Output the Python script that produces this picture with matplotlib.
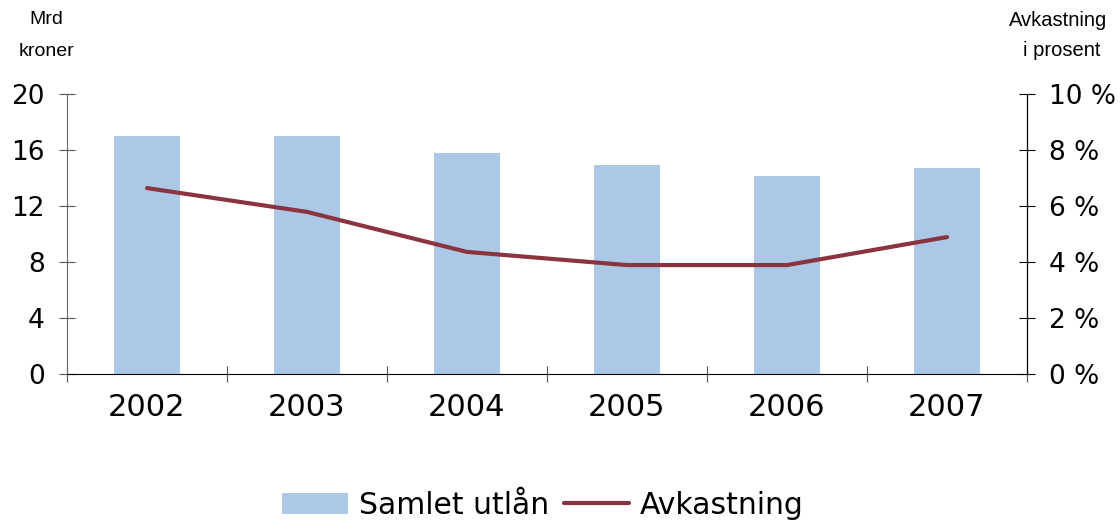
import matplotlib.pyplot as plt
import numpy as np

# data
years = ["2002", "2003", "2004", "2005", "2006", "2007"]
utlan = [17.0, 17.0, 15.8, 14.9, 14.15, 14.7]        # Mrd kroner
avkastning = [6.64, 5.79, 4.36, 3.89, 3.89, 4.89]    # prosent
left_ticks = [0, 4, 8, 12, 16, 20]
right_ticks = [0, 2, 4, 6, 8, 10]

BAR_COL = "#abc9e6"
LINE_COL = "#8b3440"

fig = plt.figure(figsize=(11.2, 5.21), dpi=100)
ax = fig.add_axes([67 / 1120, 1 - 374 / 521, 960 / 1120, 280 / 521])
ax2 = ax.twinx()

x = np.arange(len(years))
bars = ax.bar(x, utlan, width=0.41, color=BAR_COL, label="Samlet utlån", zorder=2)
line, = ax2.plot(x, avkastning, color=LINE_COL, lw=3, label="Avkastning",
                 solid_capstyle="round")

ax.set_xlim(-0.5, len(years) - 0.5)
ax.set_ylim(0, 20)
ax2.set_ylim(0, 10)
ax.set_yticks(left_ticks)
ax.set_yticklabels([str(v) for v in left_ticks], fontsize=19)
ax2.set_yticks(right_ticks)
ax2.set_yticklabels([f"{v} %" for v in right_ticks], fontsize=19)

# category ticks between bars, labels centered under bars
ax.set_xticks(np.arange(-0.5, len(years), 1.0))
ax.set_xticklabels([])
ax.set_xticks(x, minor=True)
ax.set_xticklabels(years, minor=True, fontsize=22)
ax.tick_params(axis="x", which="minor", length=0, pad=14)
ax.tick_params(axis="x", which="major", direction="inout", length=12, color="#555555")
ax.tick_params(axis="y", direction="inout", length=12, color="#555555", pad=10)
ax2.tick_params(axis="y", direction="inout", length=12, color="black", pad=10)

for a in (ax, ax2):
    a.spines["top"].set_visible(False)
ax.spines["left"].set_color("#666666")
ax.spines["bottom"].set_color("black")
ax2.spines["left"].set_visible(False)
ax2.spines["bottom"].set_visible(False)
ax2.spines["right"].set_color("black")

fig.text(46 / 1120, 1 - 20 / 521, "Mrd", ha="center", va="center",
         fontsize=14, family="Liberation Sans")
fig.text(46 / 1120, 1 - 52 / 521, "kroner", ha="center", va="center",
         fontsize=14, family="Liberation Sans")
fig.text(1058 / 1120, 1 - 20 / 521, "Avkastning", ha="center", va="center",
         fontsize=14.5, family="Liberation Sans")
fig.text(1062 / 1120, 1 - 50 / 521, "i prosent", ha="center", va="center",
         fontsize=14.5, family="Liberation Sans")

fig.legend([bars, line], ["Samlet utlån", "Avkastning"], loc="center",
           bbox_to_anchor=(543 / 1120, 1 - 505 / 521), ncol=2, frameon=False,
           fontsize=21.5, handlelength=2.2, handletextpad=0.35, columnspacing=0.5)

plt.savefig("out.png", dpi=100)
